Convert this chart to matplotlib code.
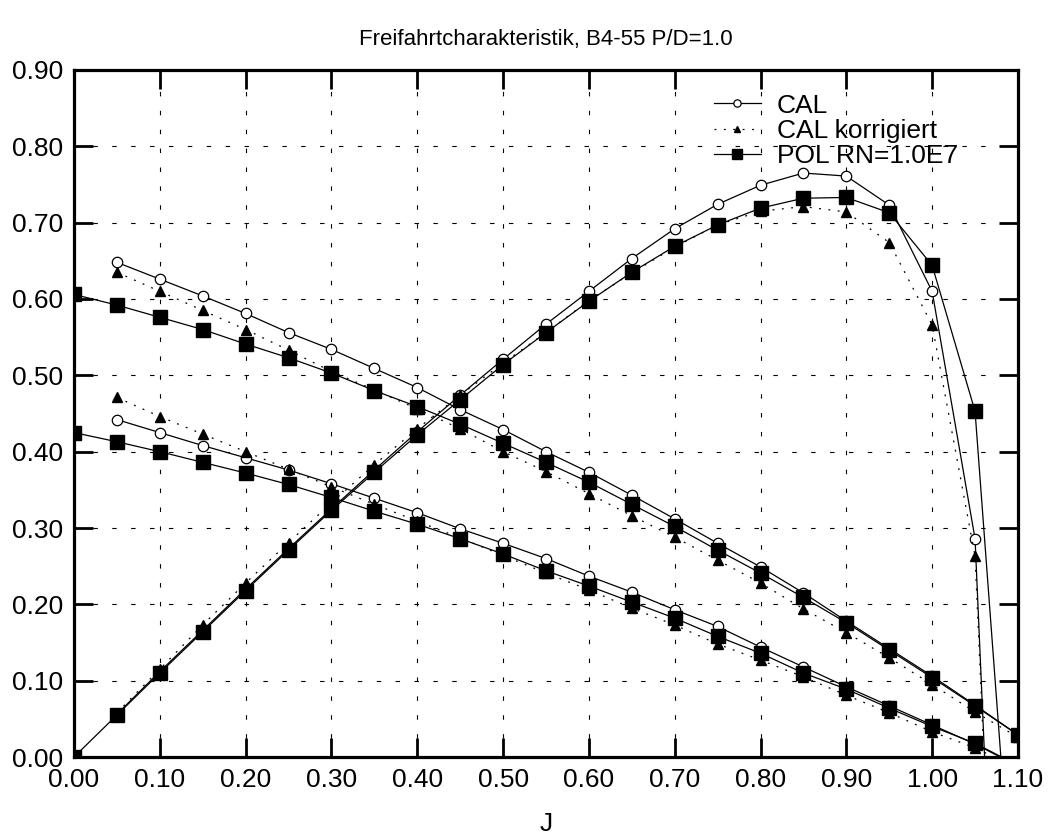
import matplotlib.pyplot as plt
import numpy as np

plt.rcParams['font.family'] = ['Liberation Sans', 'DejaVu Sans']

J_cal = [0.05, 0.10, 0.15, 0.20, 0.25, 0.30, 0.35, 0.40, 0.45, 0.50, 0.55,
         0.60, 0.65, 0.70, 0.75, 0.80, 0.85, 0.90, 0.95, 1.00, 1.05, 1.10]
J_pol = [0.00] + J_cal

# CAL
kt_cal = [0.442, 0.425, 0.408, 0.392, 0.376, 0.358, 0.339, 0.320, 0.299, 0.280, 0.260,
          0.237, 0.216, 0.193, 0.171, 0.144, 0.118, 0.092, 0.067, 0.042, 0.017, -0.012]
kq_cal = [0.648, 0.626, 0.604, 0.581, 0.556, 0.534, 0.509, 0.484, 0.455, 0.429, 0.400,
          0.373, 0.343, 0.312, 0.280, 0.249, 0.215, 0.178, 0.142, 0.106, 0.068, 0.029]
eta_cal = [0.056, 0.112, 0.166, 0.220, 0.273, 0.325, 0.376, 0.426, 0.474, 0.521, 0.567,
           0.610, 0.653, 0.692, 0.724, 0.749, 0.765, 0.761, 0.723, 0.610, 0.286, -1.0]

# CAL korrigiert
kt_kor = [0.471, 0.446, 0.423, 0.400, 0.377, 0.354, 0.331, 0.309, 0.287, 0.264, 0.241,
          0.219, 0.195, 0.173, 0.148, 0.127, 0.105, 0.081, 0.058, 0.033, 0.012, -0.015]
kq_kor = [0.635, 0.610, 0.585, 0.560, 0.533, 0.505, 0.481, 0.456, 0.430, 0.400, 0.374,
          0.345, 0.316, 0.288, 0.258, 0.228, 0.194, 0.163, 0.130, 0.095, 0.059, 0.026]
eta_kor = [0.058, 0.115, 0.173, 0.228, 0.281, 0.333, 0.383, 0.430, 0.474, 0.516, 0.556,
           0.598, 0.634, 0.668, 0.697, 0.715, 0.721, 0.714, 0.674, 0.566, 0.263, -1.0]

# POL RN=1.0E7
kt_pol = [0.425, 0.413, 0.400, 0.386, 0.372, 0.357, 0.340, 0.322, 0.305, 0.286, 0.266, 0.244,
          0.224, 0.203, 0.182, 0.158, 0.136, 0.110, 0.089, 0.064, 0.040, 0.018, -0.011]
kq_pol = [0.606, 0.592, 0.576, 0.560, 0.541, 0.523, 0.503, 0.480, 0.459, 0.436, 0.411, 0.386,
          0.360, 0.331, 0.302, 0.271, 0.241, 0.209, 0.176, 0.140, 0.104, 0.067, 0.029]
eta_pol = [0.0, 0.055, 0.110, 0.164, 0.218, 0.271, 0.323, 0.373, 0.422, 0.468, 0.514, 0.556,
           0.597, 0.635, 0.669, 0.697, 0.719, 0.732, 0.733, 0.713, 0.644, 0.453, -0.30]

fig = plt.figure(figsize=(10.54, 8.39), dpi=100)
ax = fig.add_axes([0.0702, 0.0977, 0.8956, 0.8189])

cal = dict(color='black', lw=0.9, marker='o', ms=7.5, mfc='white', mec='black', mew=0.9)
kor = dict(color='black', lw=0.9, ls=(0, (1.5, 6)), marker='^', ms=7, mfc='black', mec='black')
pol = dict(color='black', lw=0.9, marker='s', ms=10.5, mfc='black', mec='black')

for y in (kt_cal, kq_cal, eta_cal):
    l1, = ax.plot(J_cal, y, **cal)
for y in (kt_kor, kq_kor, eta_kor):
    l2, = ax.plot(J_cal, y, **kor)
for y in (kt_pol, kq_pol, eta_pol):
    l3, = ax.plot(J_pol, y, **pol)

ax.set_xlim(0, 1.10)
ax.set_ylim(0, 0.90)
ax.set_xticks(np.arange(0, 1.101, 0.1))
ax.set_yticks(np.arange(0, 0.901, 0.1))
ax.xaxis.set_major_formatter(plt.FormatStrFormatter('%.2f'))
ax.yaxis.set_major_formatter(plt.FormatStrFormatter('%.2f'))
ax.tick_params(direction='in', length=14, width=2, labelsize=19, top=True, right=True, pad=8)
for s in ax.spines.values():
    s.set_linewidth(2.3)
ax.grid(True, color='black', lw=0.8, ls=(0, (4, 13)))

ax.set_xlabel('J', fontsize=19, labelpad=14)
ax.set_title('Freifahrtcharakteristik, B4-55 P/D=1.0', fontsize=16, pad=18)

ax.legend((l1, l2, l3), ('CAL', 'CAL korrigiert', 'POL RN=1.0E7'),
          loc='upper right', bbox_to_anchor=(0.962, 1.0), frameon=False, fontsize=19,
          handlelength=1.8, handletextpad=0.6, labelspacing=0.05, markerscale=0.7)

fig.savefig('out.png', dpi=100)
